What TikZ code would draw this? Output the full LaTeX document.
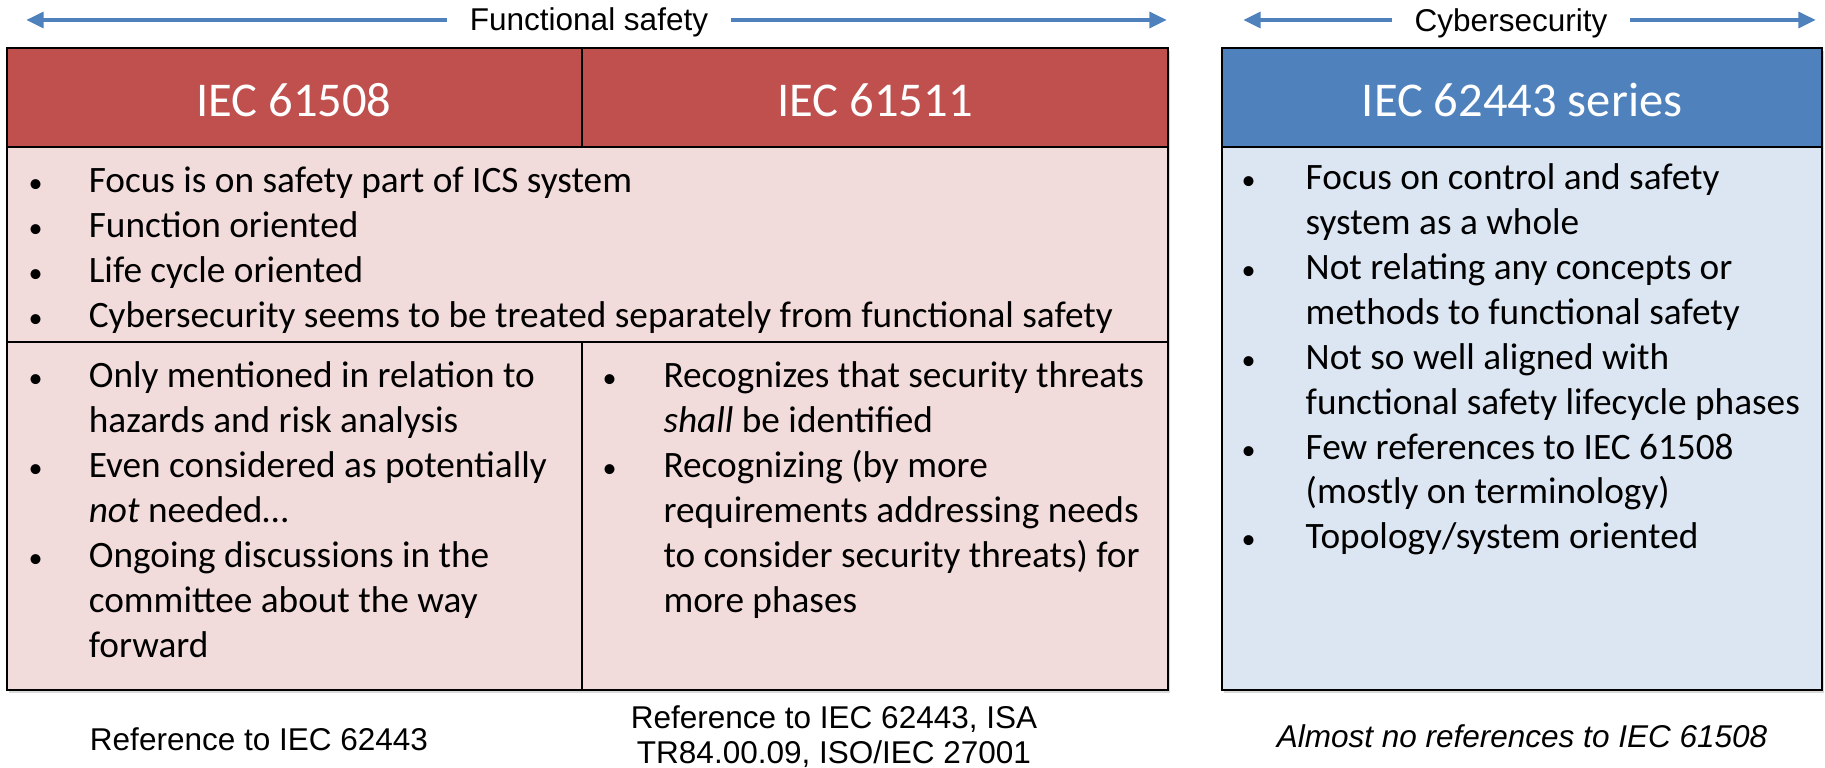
\documentclass[tikz,border=0pt]{standalone}
\usepackage{fontspec}
\setmainfont{Carlito}
\newfontfamily\arialfont{Liberation Sans}
\usepackage{tikz}
\usetikzlibrary{arrows.meta,shadows}
\usepackage{xcolor}
\definecolor{hdrred}{HTML}{C0504D}
\definecolor{bodyred}{HTML}{F2DCDB}
\definecolor{hdrblue}{HTML}{4F81BD}
\definecolor{bodyblue}{HTML}{DCE6F2}
\definecolor{arrowblue}{HTML}{4F81BD}

\newcommand{\bodyfont}{\fontsize{10.6}{12.75}\selectfont}
\newcommand{\headfont}{\fontsize{13.8}{16.5}\selectfont}
\newcommand{\notefont}{\arialfont\fontsize{8.96}{10.2}\selectfont}
\newcommand{\blt}{{\fontsize{8}{8}\selectfont\textbullet}}

\begin{document}
\begin{tikzpicture}[x=0.01cm, y=-0.01cm,
  grid/.style={line width=0.65pt},
  tshadow/.style={drop shadow={opacity=0.3, shadow xshift=0.7pt, shadow yshift=-0.9pt}},
  hdrtxt/.style={anchor=base, inner sep=0pt, text=white, font=\headfont},
  bodytxt/.style={anchor=base west, inner sep=0pt, font=\bodyfont},
  notetxt/.style={anchor=base, inner sep=0pt, align=center, font=\notefont},
  spantxt/.style={anchor=base, inner sep=0pt, inner xsep=6.3pt, font=\notefont},
  spanarrow/.style={draw=arrowblue, line width=1.4pt, -{Triangle[length=5pt,width=4.4pt]}}]
\useasboundingbox (0,0) rectangle (1825,768);

% spans over the two groups
\node[spantxt] (fsafe) at (589,31) {Functional safety};
\coordinate (fsleft) at (26,20);
\coordinate (fsright) at (1167,20);
\draw[spanarrow] (fsleft -| fsafe.west) -- (fsleft);
\draw[spanarrow] (fsright -| fsafe.east) -- (fsright);

\node[spantxt] (csec) at (1511,32) {Cybersecurity};
\coordinate (csleft) at (1243,20);
\coordinate (csright) at (1816,20);
\draw[spanarrow] (csleft -| csec.west) -- (csleft);
\draw[spanarrow] (csright -| csec.east) -- (csright);

% functional safety table
\fill[bodyred, tshadow] (7,48) rectangle (1168,690);
\fill[hdrred] (7,48) rectangle (1168,147);
\draw[grid] (7,48) rectangle (1168,690);
\draw[grid] (7,147) -- (1168,147);
\draw[grid] (7,342) -- (1168,342);
\draw[grid] (582,48) -- (582,147);
\draw[grid] (582,342) -- (582,690);
\node[hdrtxt] (iec61508) at (294,117) {IEC 61508};
\node[hdrtxt] (iec61511) at (875,117) {IEC 61511};

\node[bodytxt] (common) at (28,193) {\begin{tabular}[t]{@{}p{17.1pt}@{}l@{}}
\blt & Focus is on safety part of ICS system\\
\blt & Function oriented\\
\blt & Life cycle oriented\\
\blt & Cybersecurity seems to be treated separately from functional safety
\end{tabular}};

\node[bodytxt] (only61508) at (28,388) {\begin{tabular}[t]{@{}p{17.1pt}@{}l@{}}
\blt & Only mentioned in relation to\\
 & hazards and risk analysis\\
\blt & Even considered as potentially\\
 & \textit{not} needed…\\
\blt & Ongoing discussions in the\\
 & committee about the way\\
 & forward
\end{tabular}};

\node[bodytxt] (only61511) at (602,388) {\begin{tabular}[t]{@{}p{17.3pt}@{}l@{}}
\blt & Recognizes that security threats\\
 & \textit{shall} be identified\\
\blt & Recognizing (by more\\
 & requirements addressing needs\\
 & to consider security threats) for\\
 & more phases
\end{tabular}};

% cybersecurity table
\fill[bodyblue, tshadow] (1222,48) rectangle (1822,690);
\fill[hdrblue] (1222,48) rectangle (1822,147);
\draw[grid] (1222,48) rectangle (1822,690);
\draw[grid] (1222,147) -- (1822,147);
\node[hdrtxt] (iec62443) at (1522,117) {IEC 62443 series};

\node[bodytxt] (series) at (1241,190) {\begin{tabular}[t]{@{}p{18.2pt}@{}l@{}}
\blt & Focus on control and safety\\
 & system as a whole\\
\blt & Not relating any concepts or\\
 & methods to functional safety\\
\blt & Not so well aligned with\\
 & functional safety lifecycle phases\\
\blt & Few references to IEC 61508\\
 & (mostly on terminology)\\
\blt & Topology/system oriented
\end{tabular}};

% notes below
\node[notetxt] (ref61508) at (259,751) {Reference to IEC 62443};
\node[notetxt] (ref61511) at (834,764) {Reference to IEC 62443, ISA\\TR84.00.09, ISO/IEC 27001};
\node[notetxt, font=\notefont\itshape] (ref62443) at (1522,748) {Almost no references to IEC 61508};
\end{tikzpicture}
\end{document}
